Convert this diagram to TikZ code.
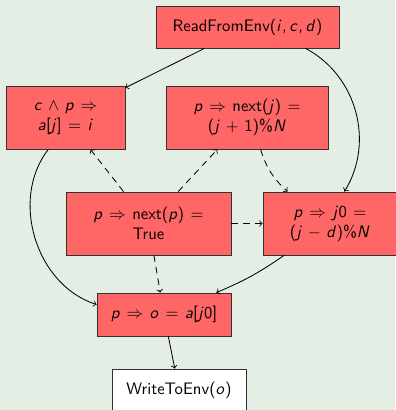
\documentclass[tikz,border=0pt]{standalone}
% sans-serif math letters and operators, upright symbols from cmsy
\DeclareSymbolFont{operators}{OT1}{cmss}{m}{n}
\DeclareSymbolFont{letters}{OT1}{cmss}{m}{sl}
\mathcode`\,="602C
\thickmuskip=7mu plus 5mu
\medmuskip=6mu plus 2mu minus 4mu
\usetikzlibrary{positioning}
\definecolor{bgcol}{RGB}{228,238,228}
\definecolor{boxred}{RGB}{255,102,102}
\definecolor{edgegray}{RGB}{50,50,50}
\tikzset{
  stepbox/.style={draw=edgegray, fill=boxred, rectangle, inner sep=0pt,
    align=center, font=\sffamily, line width=0.5pt},
  iobox/.style={stepbox, fill=white},
  flow/.style={->, black, line width=0.5pt},
  dep/.style={->, black, line width=0.5pt, dash pattern=on 4pt off 3pt},
}
\begin{document}
\begin{tikzpicture}[x=0.6pt, y=-0.6pt]
  \fill[bgcol] (0,0) rectangle (395,410);
  \useasboundingbox (0,0) rectangle (395,410);

  \node[stepbox, minimum width=109.8pt, minimum height=25.2pt] (read) at (247.5,27)
    {ReadFromEnv$(i, c, d)$};
  \node[stepbox, minimum width=71.4pt, minimum height=37.8pt] (cp) at (65.5,117.5)
    {$c \wedge p \Rightarrow$\\$a[j] = i$};
  \node[stepbox, minimum width=97.2pt, minimum height=37.8pt] (nj) at (247,117.5)
    {$p \Rightarrow \mbox{next}(j) =$\\$(j + 1)\%N$};
  \node[stepbox, minimum width=99pt, minimum height=37.8pt] (np) at (148.5,223.5)
    {$p \Rightarrow \mbox{next}(p) =$\\True};
  \node[stepbox, minimum width=80.4pt, minimum height=37.8pt] (jz) at (330,223.5)
    {$p \Rightarrow j0 =$\\$(j - d)\%N$};
  \node[stepbox, minimum width=80.4pt, minimum height=25.8pt] (out) at (164,314.5)
    {$p \Rightarrow o = a[j0]$};
  \node[iobox, minimum width=80.4pt, minimum height=25.2pt] (write) at (179,390)
    {WriteToEnv$(o)$};

  \draw[flow] (read) -- (cp);
  \draw[flow] (read) to[bend left=47] (jz);
  \draw[flow] (cp) to[bend right=55] (out);
  \draw[flow] (jz) to[bend left=6] (out);
  \draw[flow] (out) -- (write);

  \draw[dep] (np) -- (cp);
  \draw[dep] (np) -- (nj);
  \draw[dep] (nj) to[bend right=15] (jz);
  \draw[dep] (np) -- (jz);
  \draw[dep] (np) -- (out);
\end{tikzpicture}
\end{document}
